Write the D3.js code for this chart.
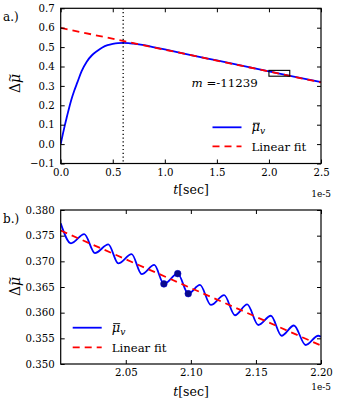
<!DOCTYPE html>
<html><head><meta charset="utf-8">
<script src="https://cdn.jsdelivr.net/npm/d3@7"></script>
<style>
html,body{margin:0;padding:0;background:#fff;}
svg{display:block;}
svg text{font-family:"DejaVu Serif","Liberation Serif","Times New Roman",serif;fill:#000;}
</style></head>
<body>
<svg id="chart" width="338" height="406"></svg>
<script>
// ---------- data (t in units of 1e-5 s) ----------
const topT  = [0.00,0.02,0.04,0.06,0.08,0.10,0.13,0.16,0.20,0.25,0.30,0.35,0.40,0.45,0.50,0.55,0.60,0.65,0.70,0.80,0.90,1.00,1.25,1.50,1.75,2.00,2.25,2.50];
const topMu = [0.000,0.050,0.098,0.142,0.185,0.225,0.275,0.318,0.375,0.425,0.458,0.480,0.498,0.510,0.517,0.521,0.522,0.521,0.518,0.510,0.499,0.488,0.459,0.431,0.403,0.375,0.347,0.320];
const topFitT = [0.0, 2.5];
const topFitV = [0.599, 0.318];

const botT  = [2.0000,2.0079,2.0181,2.0263,2.0366,2.0442,2.0545,2.0622,2.0719,2.0793,2.0899,2.0980,2.1070,2.1154,2.1256,2.1339,2.1433,2.1518,2.1615,2.1697,2.1792,2.1882,2.1979,2.2000];
const botMu = [0.3774,0.3735,0.3753,0.3716,0.3733,0.3696,0.3714,0.3675,0.3693,0.3656,0.3676,0.3637,0.3654,0.3615,0.3634,0.3595,0.3616,0.3576,0.3594,0.3555,0.3575,0.3537,0.3555,0.3553];
const botFitT = [2.0, 2.2];
const botFitV = [0.3760, 0.3536];
const markT  = [2.0793, 2.0899, 2.0980];
const markMu = [0.3656, 0.3676, 0.3637];

const vlineT = 0.6;
const boxT = [2.0, 2.2];
const boxV = [0.35, 0.38];
const slopeLabel = "-11239";

const topXTicks = [0.0,0.5,1.0,1.5,2.0,2.5];
const topYTicks = [-0.1,0.0,0.1,0.2,0.3,0.4,0.5,0.6,0.7];
const botXTicks = [2.05,2.10,2.15,2.20];
const botYTicks = [0.350,0.355,0.360,0.365,0.370,0.375,0.380];
const legendLabels = ["μ", "Linear fit"];

// ---------- drawing ----------
const svg = d3.select("#chart");
const BLUE = "#0000ff", RED = "#ff0000";
const SERIF = '"DejaVu Serif","Liberation Serif","Times New Roman",serif';

function fmtMinus(s){ return s.replace("-", "\u2212"); }

function panel(o){
  const g = svg.append("g");
  const x = d3.scaleLinear().domain(o.xd).range([o.x0, o.x1]);
  const y = d3.scaleLinear().domain(o.yd).range([o.y1, o.y0]);
  const clipId = "clip" + o.id;
  svg.append("clipPath").attr("id", clipId).append("rect")
    .attr("x", o.x0).attr("y", o.y0).attr("width", o.x1 - o.x0).attr("height", o.y1 - o.y0);
  const pg = g.append("g").attr("clip-path", `url(#${clipId})`);
  return {g, pg, x, y};
}

function axes(p, o){
  const tl = 4;
  p.g.append("g").attr("transform", `translate(0,${o.y1})`)
    .call(d3.axisBottom(p.x).tickValues(o.xt).tickSize(-tl).tickPadding(5).tickFormat(o.xf));
  p.g.append("g").attr("transform", `translate(0,${o.y0})`)
    .call(d3.axisTop(p.x).tickValues(o.xt).tickSize(-tl).tickFormat(""));
  p.g.append("g").attr("transform", `translate(${o.x0},0)`)
    .call(d3.axisLeft(p.y).tickValues(o.yt).tickSize(-tl).tickPadding(6).tickFormat(o.yf));
  p.g.append("g").attr("transform", `translate(${o.x1},0)`)
    .call(d3.axisRight(p.y).tickValues(o.yt).tickSize(-tl).tickFormat(""));
  p.g.selectAll(".domain").remove();
  p.g.selectAll("g").attr("font-family", SERIF);
  p.g.selectAll(".tick line").attr("stroke", "#000").attr("stroke-width", 1);
  p.g.selectAll(".tick text").attr("font-size", 10.2).style("font-family", SERIF).attr("fill", "#111");
  p.g.append("rect").attr("x", o.x0).attr("y", o.y0).attr("width", o.x1 - o.x0).attr("height", o.y1 - o.y0)
    .attr("fill", "none").attr("stroke", "#000").attr("stroke-width", 1.2);
}

function muBar(parent, x, y, size){
  const t = parent.append("text").attr("x", x).attr("y", y).attr("font-size", size).style("font-family", SERIF);
  t.append("tspan").attr("font-style", "italic").text(legendLabels[0]);
  t.append("tspan").attr("font-style", "italic").attr("font-size", size * 0.7).attr("dy", 3).text("v");
  parent.append("line").attr("x1", x + 1.5).attr("x2", x + 8.5).attr("y1", y - size * 0.62).attr("y2", y - size * 0.62)
    .attr("stroke", "#000").attr("stroke-width", 0.9);
}

function legend(g, lx, ly, gap){
  g.append("line").attr("x1", lx).attr("x2", lx + 29).attr("y1", ly).attr("y2", ly)
    .attr("stroke", BLUE).attr("stroke-width", 1.8);
  muBar(g, lx + 39, ly + 4, 13);
  g.append("line").attr("x1", lx).attr("x2", lx + 29).attr("y1", ly + gap).attr("y2", ly + gap)
    .attr("stroke", RED).attr("stroke-width", 1.8).attr("stroke-dasharray", "7,5");
  g.append("text").attr("x", lx + 39).attr("y", ly + gap + 4.5).attr("font-size", 11.7).style("font-family", SERIF).text(legendLabels[1]);
}

function yLabel(cx, cy){
  const g = svg.append("g").attr("transform", `translate(${cx},${cy}) rotate(-90)`);
  const t = g.append("text").attr("x", -9).attr("y", 0).attr("font-size", 14).style("font-family", SERIF);
  t.append("tspan").text("Δ");
  t.append("tspan").attr("font-style", "italic").text("μ");
  g.append("text").attr("x", 1.5).attr("y", -6.5).attr("font-size", 11).style("font-family", SERIF).text("~");
}
function xLabel(cx, by){
  const t = svg.append("text").attr("x", cx).attr("y", by).attr("text-anchor", "middle").attr("font-size", 12.5).style("font-family", SERIF);
  t.append("tspan").attr("font-style", "italic").text("t");
  t.append("tspan").text("[sec]");
}

// ---- top panel ----
const oA = {id:"a", x0:60.7, x1:321, y0:8.3, y1:163.5, xd:[0,2.5], yd:[-0.1,0.7],
  xt: topXTicks, yt: topYTicks, xf: d3.format(".1f"), yf: d => fmtMinus(d3.format(".1f")(d))};
const pA = panel(oA);
const lineA = d3.line().x((d,i)=>pA.x(topT[i])).y((d,i)=>pA.y(topMu[i])).curve(d3.curveMonotoneX);
pA.pg.append("path").attr("d", lineA(topT)).attr("fill","none").attr("stroke",BLUE).attr("stroke-width",1.8);
pA.pg.append("path").attr("d", d3.line().x((d,i)=>pA.x(topFitT[i])).y((d,i)=>pA.y(topFitV[i]))(topFitT))
  .attr("fill","none").attr("stroke",RED).attr("stroke-width",1.8).attr("stroke-dasharray","7,5");
pA.pg.append("line").attr("x1",pA.x(vlineT)).attr("x2",pA.x(vlineT)).attr("y1",oA.y0).attr("y2",oA.y1)
  .attr("stroke","#000").attr("stroke-width",1.3).attr("stroke-dasharray","1.2,2.6");
pA.pg.append("rect").attr("x",pA.x(boxT[0])).attr("y",pA.y(boxV[1]))
  .attr("width",pA.x(boxT[1])-pA.x(boxT[0])).attr("height",pA.y(boxV[0])-pA.y(boxV[1]))
  .attr("fill","none").attr("stroke","#000").attr("stroke-width",1.1);
axes(pA, oA);
const ann = svg.append("text").attr("x",191.5).attr("y",86.5).attr("font-size",11.8).style("font-family", SERIF);
ann.append("tspan").attr("font-style","italic").text("m");
ann.append("tspan").text(" =" + slopeLabel);
legend(svg, 212.5, 127.3, 19);
yLabel(20, 84);
xLabel(191, 194);
svg.append("text").attr("x",331).attr("y",196.5).attr("text-anchor","end").attr("font-size",9).attr("fill","#222").style("font-family", SERIF).text("1e-5");
svg.append("text").attr("x",3).attr("y",21).attr("font-size",12).style("font-family", SERIF).text("a.)");

// ---- bottom panel ----
const oB = {id:"b", x0:60.7, x1:321, y0:210, y1:364, xd:[2.0,2.2], yd:[0.350,0.380],
  xt: botXTicks, yt: botYTicks, xf: d3.format(".2f"), yf: d3.format(".3f")};
const pB = panel(oB);
const lineB = d3.line().x((d,i)=>pB.x(botT[i])).y((d,i)=>pB.y(botMu[i])).curve(d3.curveMonotoneX);
pB.pg.append("path").attr("d", lineB(botT)).attr("fill","none").attr("stroke",BLUE).attr("stroke-width",1.8);
pB.pg.append("path").attr("d", d3.line().x((d,i)=>pB.x(botFitT[i])).y((d,i)=>pB.y(botFitV[i]))(botFitT))
  .attr("fill","none").attr("stroke",RED).attr("stroke-width",1.8).attr("stroke-dasharray","7,5");
pB.pg.selectAll("circle.mk").data(markT).enter().append("circle").attr("class","mk")
  .attr("cx",(d)=>pB.x(d)).attr("cy",(d,i)=>pB.y(markMu[i])).attr("r",3.3)
  .attr("fill","#0a0a8c").attr("stroke","#0000cc").attr("stroke-width",0.6);
axes(pB, oB);
legend(svg, 72.7, 327.7, 19.6);
yLabel(20, 287);
xLabel(191, 396);
svg.append("text").attr("x",331).attr("y",390).attr("text-anchor","end").attr("font-size",9).attr("fill","#222").style("font-family", SERIF).text("1e-5");
svg.append("text").attr("x",3).attr("y",223).attr("font-size",12).style("font-family", SERIF).text("b.)");
</script>
</body></html>
